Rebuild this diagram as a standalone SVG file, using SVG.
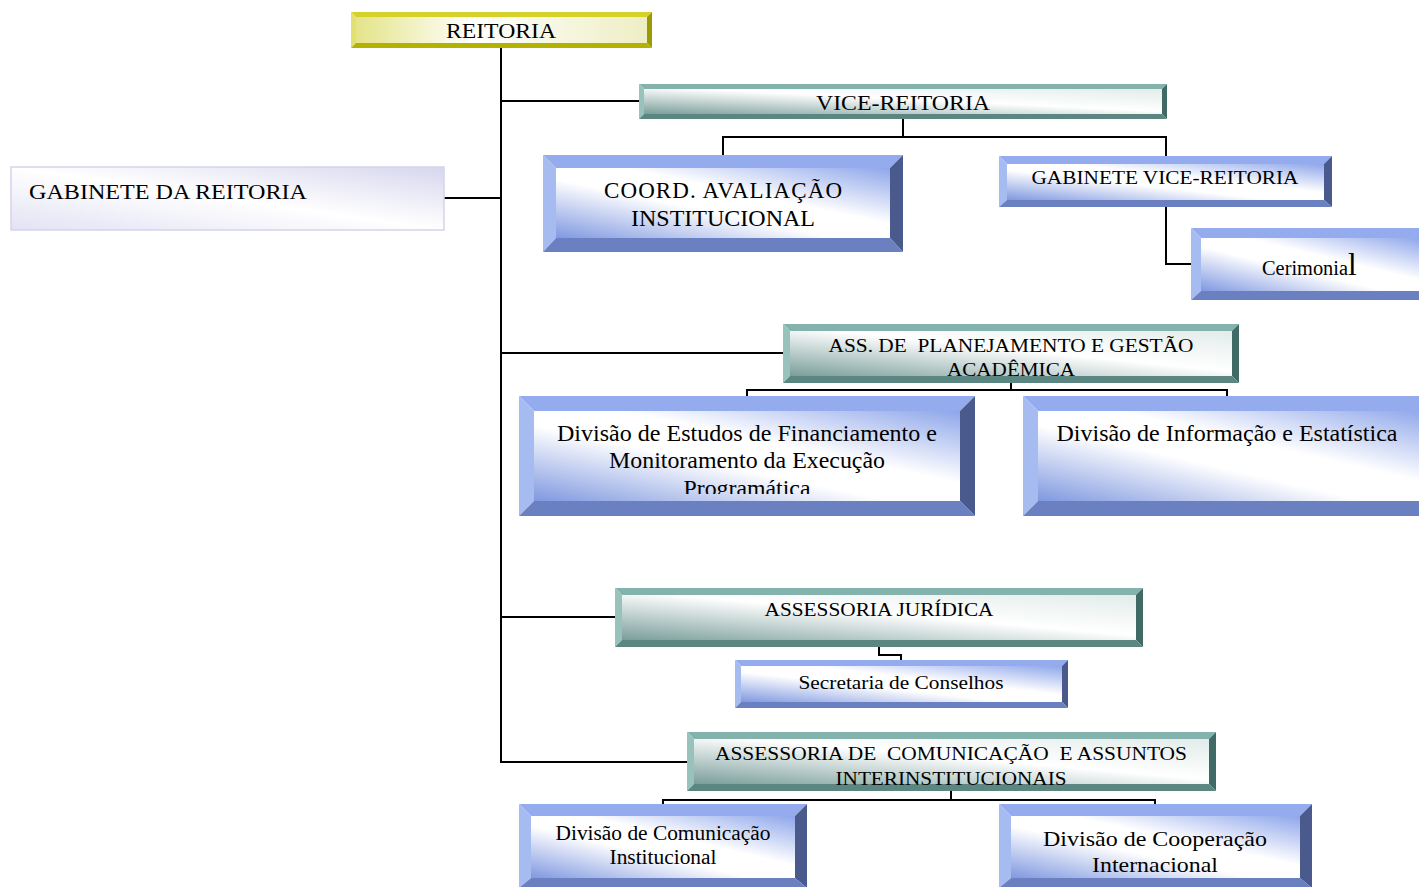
<svg xmlns="http://www.w3.org/2000/svg" width="1419" height="887" viewBox="0 0 1419 887">
  <defs>
    <linearGradient id="gBlue" x1="0" y1="1" x2="1" y2="0">
      <stop offset="0" stop-color="#7f98e0"/>
      <stop offset="0.42" stop-color="#ffffff"/>
      <stop offset="0.6" stop-color="#ffffff"/>
      <stop offset="1" stop-color="#8ea6ea"/>
    </linearGradient>
    <linearGradient id="gTeal" x1="0" y1="1" x2="1" y2="0">
      <stop offset="0" stop-color="#7a9e9a"/>
      <stop offset="0.55" stop-color="#ffffff"/>
      <stop offset="1" stop-color="#e2ecea"/>
    </linearGradient>
    <linearGradient id="gYel" x1="0" y1="0" x2="1" y2="0">
      <stop offset="0" stop-color="#e4e48a"/>
      <stop offset="0.4" stop-color="#ffffff"/>
      <stop offset="1" stop-color="#eeeec4"/>
    </linearGradient>
    <linearGradient id="gLav" x1="0" y1="1" x2="1" y2="0">
      <stop offset="0" stop-color="#e2e2f4"/>
      <stop offset="0.5" stop-color="#ffffff"/>
      <stop offset="1" stop-color="#d6d6ee"/>
    </linearGradient>
    <clipPath id="clipEstudos">
      <rect x="534" y="411" width="426" height="83"/>
    </clipPath>
  </defs>
  <style>
    .t { font-family: "Liberation Serif", "Times New Roman", serif; fill: #000; text-anchor: middle; white-space: pre; }
    .blue .top { fill: #94aced; }
    .blue .left { fill: #a6bcf0; }
    .blue .right { fill: #4a5a8c; }
    .blue .bot { fill: #6a80c0; }
    .blue .face { fill: url(#gBlue); }
    .teal .top { fill: #84b2ac; }
    .teal .left { fill: #98c2bc; }
    .teal .right { fill: #3f6a66; }
    .teal .bot { fill: #5b8682; }
    .teal .face { fill: url(#gTeal); }
    .yel .top { fill: #d4d22a; }
    .yel .left { fill: #e2e070; }
    .yel .right { fill: #9c9a00; }
    .yel .bot { fill: #b4b200; }
    .yel .face { fill: url(#gYel); }
    .conn { fill: none; stroke: #000; stroke-width: 2; }
  </style>

  <!-- connectors -->
  <g id="connectors" class="conn">
    <path d="M501 48 V762 H687"/>
    <path d="M501 101 H639"/>
    <path d="M444 198 H501"/>
    <path d="M903 119 V137 M723 155 V137 H1166 V156"/>
    <path d="M1166 207 V264 H1191"/>
    <path d="M501 353 H783"/>
    <path d="M1011 383 V390 M747 396 V390 H1227 V396"/>
    <path d="M501 617 H615"/>
    <path d="M879 647 V655 H901 V660"/>
    <path d="M951 791 V800 M663 804 V800 H1155 V804"/>
  </g>

  <!-- REITORIA -->
  <g id="reitoria" class="yel">
    <polygon class="top" points="351,12 652,12 647,17 356,17"/>
    <polygon class="left" points="351,12 356,17 356,43 351,48"/>
    <polygon class="right" points="652,12 652,48 647,43 647,17"/>
    <polygon class="bot" points="351,48 356,43 647,43 652,48"/>
    <rect class="face" x="356" y="17" width="291" height="26"/>
    <text class="t" x="501" y="38" font-size="20" textLength="110" lengthAdjust="spacingAndGlyphs">REITORIA</text>
  </g>

  <!-- VICE-REITORIA -->
  <g id="vice-reitoria" class="teal">
    <polygon class="top" points="639,84 1167,84 1162,89 644,89"/>
    <polygon class="left" points="639,84 644,89 644,114 639,119"/>
    <polygon class="right" points="1167,84 1167,119 1162,114 1162,89"/>
    <polygon class="bot" points="639,119 644,114 1162,114 1167,119"/>
    <rect class="face" x="644" y="89" width="518" height="25"/>
    <text class="t" x="903" y="110" font-size="20" textLength="174" lengthAdjust="spacingAndGlyphs">VICE-REITORIA</text>
  </g>

  <!-- GABINETE DA REITORIA -->
  <g id="gabinete-reitoria">
    <rect x="11" y="167" width="433" height="63" fill="url(#gLav)" stroke="#d4d4ec" stroke-width="1.5"/>
    <text class="t" x="29" y="199" font-size="22" style="text-anchor:start" textLength="278" lengthAdjust="spacingAndGlyphs">GABINETE DA REITORIA</text>
  </g>

  <!-- COORD. AVALIAÇÃO INSTITUCIONAL -->
  <g id="coord-avaliacao" class="blue">
    <polygon class="top" points="543,155 903,155 890,168 556,168"/>
    <polygon class="left" points="543,155 556,168 556,238 543,252"/>
    <polygon class="right" points="903,155 903,252 890,238 890,168"/>
    <polygon class="bot" points="543,252 556,238 890,238 903,252"/>
    <rect class="face" x="556" y="168" width="334" height="70"/>
    <text class="t" x="723" y="198" font-size="23" textLength="238" lengthAdjust="spacing">COORD. AVALIAÇÃO</text>
    <text class="t" x="723" y="226" font-size="23" textLength="184" lengthAdjust="spacingAndGlyphs">INSTITUCIONAL</text>
  </g>

  <!-- GABINETE VICE-REITORIA -->
  <g id="gabinete-vice" class="blue">
    <polygon class="top" points="999,156 1332,156 1324,164 1007,164"/>
    <polygon class="left" points="999,156 1007,164 1007,200 999,207"/>
    <polygon class="right" points="1332,156 1332,207 1324,200 1324,164"/>
    <polygon class="bot" points="999,207 1007,200 1324,200 1332,207"/>
    <rect class="face" x="1007" y="164" width="317" height="36"/>
    <text class="t" x="1165" y="184" font-size="18.5" textLength="267" lengthAdjust="spacingAndGlyphs">GABINETE VICE-REITORIA</text>
  </g>

  <!-- Cerimonial -->
  <g id="cerimonial" class="blue">
    <polygon class="top" points="1191,228 1431,228 1421,238 1201,238"/>
    <polygon class="left" points="1191,228 1201,238 1201,291 1191,300"/>
    <polygon class="bot" points="1191,300 1201,291 1421,291 1431,300"/>
    <rect class="face" x="1201" y="238" width="220" height="53"/>
    <text class="t" x="1262" y="275" font-size="20.5" style="text-anchor:start"><tspan textLength="86" lengthAdjust="spacingAndGlyphs">Cerimonia</tspan><tspan font-size="31">l</tspan></text>
  </g>

  <!-- ASS. DE PLANEJAMENTO E GESTÃO ACADÊMICA -->
  <g id="ass-planejamento" class="teal">
    <polygon class="top" points="783,324 1239,324 1232,331 790,331"/>
    <polygon class="left" points="783,324 790,331 790,376 783,383"/>
    <polygon class="right" points="1239,324 1239,383 1232,376 1232,331"/>
    <polygon class="bot" points="783,383 790,376 1232,376 1239,383"/>
    <rect class="face" x="790" y="331" width="442" height="45"/>
    <text class="t" x="1011" y="352" font-size="19.5" textLength="365" lengthAdjust="spacingAndGlyphs">ASS. DE  PLANEJAMENTO E GESTÃO</text>
    <text class="t" x="1011" y="376" font-size="19.5" textLength="128" lengthAdjust="spacingAndGlyphs">ACADÊMICA</text>
  </g>

  <!-- Divisão de Estudos de Financiamento -->
  <g id="div-estudos" class="blue">
    <polygon class="top" points="519,396 975,396 960,411 534,411"/>
    <polygon class="left" points="519,396 534,411 534,501 519,516"/>
    <polygon class="right" points="975,396 975,516 960,501 960,411"/>
    <polygon class="bot" points="519,516 534,501 960,501 975,516"/>
    <rect class="face" x="534" y="411" width="426" height="90"/>
    <g clip-path="url(#clipEstudos)">
      <text class="t" x="747" y="441" font-size="22.5" textLength="380" lengthAdjust="spacingAndGlyphs">Divisão de Estudos de Financiamento e</text>
      <text class="t" x="747" y="468" font-size="22.5" textLength="276" lengthAdjust="spacingAndGlyphs">Monitoramento da Execução</text>
      <text class="t" x="747" y="496" font-size="22.5" textLength="127" lengthAdjust="spacingAndGlyphs">Programática</text>
    </g>
  </g>

  <!-- Divisão de Informação e Estatística -->
  <g id="div-informacao" class="blue">
    <polygon class="top" points="1023,396 1443,396 1428,411 1038,411"/>
    <polygon class="left" points="1023,396 1038,411 1038,501 1023,516"/>
    <polygon class="bot" points="1023,516 1038,501 1428,501 1443,516"/>
    <rect class="face" x="1038" y="411" width="390" height="90"/>
    <text class="t" x="1227" y="441" font-size="22.5" textLength="341" lengthAdjust="spacingAndGlyphs">Divisão de Informação e Estatística</text>
  </g>

  <!-- ASSESSORIA JURÍDICA -->
  <g id="assessoria-juridica" class="teal">
    <polygon class="top" points="615,588 1143,588 1136,595 622,595"/>
    <polygon class="left" points="615,588 622,595 622,640 615,647"/>
    <polygon class="right" points="1143,588 1143,647 1136,640 1136,595"/>
    <polygon class="bot" points="615,647 622,640 1136,640 1143,647"/>
    <rect class="face" x="622" y="595" width="514" height="45"/>
    <text class="t" x="879" y="616" font-size="19" textLength="229" lengthAdjust="spacingAndGlyphs">ASSESSORIA JURÍDICA</text>
  </g>

  <!-- Secretaria de Conselhos -->
  <g id="secretaria" class="blue">
    <polygon class="top" points="735,660 1068,660 1062,666 741,666"/>
    <polygon class="left" points="735,660 741,666 741,702 735,708"/>
    <polygon class="right" points="1068,660 1068,708 1062,702 1062,666"/>
    <polygon class="bot" points="735,708 741,702 1062,702 1068,708"/>
    <rect class="face" x="741" y="666" width="321" height="36"/>
    <text class="t" x="901" y="689" font-size="19" textLength="205" lengthAdjust="spacingAndGlyphs">Secretaria de Conselhos</text>
  </g>

  <!-- ASSESSORIA DE COMUNICAÇÃO E ASSUNTOS INTERINSTITUCIONAIS -->
  <g id="assessoria-comunicacao" class="teal">
    <polygon class="top" points="687,732 1216,732 1209,739 694,739"/>
    <polygon class="left" points="687,732 694,739 694,784 687,791"/>
    <polygon class="right" points="1216,732 1216,791 1209,784 1209,739"/>
    <polygon class="bot" points="687,791 694,784 1209,784 1216,791"/>
    <rect class="face" x="694" y="739" width="515" height="45"/>
    <text class="t" x="951" y="760" font-size="19" textLength="472" lengthAdjust="spacingAndGlyphs">ASSESSORIA DE  COMUNICAÇÃO  E ASSUNTOS</text>
    <text class="t" x="951" y="785" font-size="19" textLength="231" lengthAdjust="spacingAndGlyphs">INTERINSTITUCIONAIS</text>
  </g>

  <!-- Divisão de Comunicação Institucional -->
  <g id="div-comunicacao" class="blue">
    <polygon class="top" points="519,804 807,804 795,816 531,816"/>
    <polygon class="left" points="519,804 531,816 531,878 519,888"/>
    <polygon class="right" points="807,804 807,888 795,878 795,816"/>
    <polygon class="bot" points="519,888 531,878 795,878 807,888"/>
    <rect class="face" x="531" y="816" width="264" height="62"/>
    <text class="t" x="663" y="840" font-size="20" textLength="215" lengthAdjust="spacingAndGlyphs">Divisão de Comunicação</text>
    <text class="t" x="663" y="864" font-size="20" textLength="107" lengthAdjust="spacingAndGlyphs">Institucional</text>
  </g>

  <!-- Divisão de Cooperação Internacional -->
  <g id="div-cooperacao" class="blue">
    <polygon class="top" points="999,804 1312,804 1300,816 1011,816"/>
    <polygon class="left" points="999,804 1011,816 1011,878 999,888"/>
    <polygon class="right" points="1312,804 1312,888 1300,878 1300,816"/>
    <polygon class="bot" points="999,888 1011,878 1300,878 1312,888"/>
    <rect class="face" x="1011" y="816" width="289" height="62"/>
    <text class="t" x="1155" y="846" font-size="22" textLength="224" lengthAdjust="spacingAndGlyphs">Divisão de Cooperação</text>
    <text class="t" x="1155" y="872" font-size="22" textLength="126" lengthAdjust="spacingAndGlyphs">Internacional</text>
  </g>
</svg>
